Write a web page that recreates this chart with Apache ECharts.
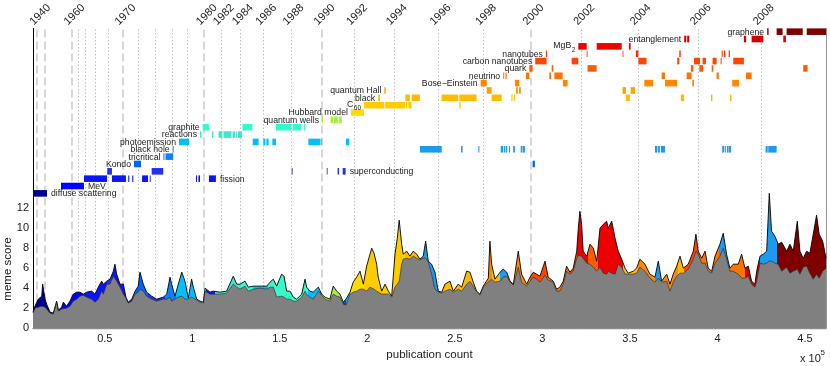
<!DOCTYPE html>
<html>
<head>
<meta charset="utf-8">
<script src="https://cdn.jsdelivr.net/npm/echarts@6/dist/echarts.min.js"></script>
<style>
  html, body { margin: 0; padding: 0; background: #fff; }
  #chart { width: 830px; height: 366px; }
</style>
</head>
<body>
<div id="chart"></div>
<script>
// x values are publication counts in thousands

// meme score curve: total (top, black outline) and the grey base under it
const areaX = [
  9.0, 10.1, 12.0, 14.0, 14.5, 15.9, 16.8, 18.7, 20.6, 22.5,
  23.5, 25.4, 26.3, 28.2, 30.1, 32.0, 34.0, 35.8, 37.7, 39.7,
  42.5, 44.4, 46.3, 48.2, 49.2, 51.1, 53.0, 54.9, 55.8, 56.8,
  58.7, 60.6, 62.1, 63.4, 65.4, 67.3, 69.1, 70.1, 72.0, 73.9,
  76.8, 79.7, 83.4, 85.4, 87.3, 88.2, 90.1, 92.0, 94.0, 95.8,
  97.7, 99.6, 100.6, 102.5, 104.4, 106.3, 107.3, 110.1, 112.0, 115.8,
  119.6, 123.4, 125.4, 127.2, 130.1, 132.0, 134.8, 138.7, 142.5, 144.4,
  146.3, 148.2, 151.0, 152.4, 153.9, 155.8, 157.7, 159.6, 162.5, 164.4,
  165.3, 167.2, 169.1, 172.0, 173.9, 175.8, 178.6, 180.5, 182.5, 184.4,
  186.2, 187.8, 190.1, 191.9, 193.9, 195.8, 197.7, 199.6, 201.5, 202.5,
  203.8, 205.3, 206.2, 208.2, 210.1, 212.0, 213.9, 215.8, 217.1, 218.2,
  219.6, 220.5, 222.5, 224.3, 226.2, 228.2, 230.0, 231.9, 233.3, 234.8,
  236.7, 238.6, 240.5, 242.5, 244.3, 247.2, 249.1, 251.9, 253.9, 256.7,
  258.6, 260.5, 262.4, 264.3, 266.2, 269.1, 270.0, 271.0, 272.9, 275.8,
  277.6, 279.6, 281.5, 283.4, 286.2, 288.1, 291.0, 292.9, 294.8, 296.7,
  298.6, 301.5, 303.3, 306.2, 308.1, 310.0, 311.9, 313.8, 315.7, 317.6,
  319.6, 320.5, 321.4, 322.4, 323.3, 325.3, 327.2, 329.1, 331.0, 332.9,
  334.8, 336.7, 337.6, 339.6, 341.5, 343.3, 345.3, 347.2, 349.0, 351.9,
  353.8, 355.7, 358.6, 361.4, 364.3, 366.2, 368.1, 371.0, 372.9, 374.7,
  376.7, 378.6, 380.5, 383.3, 386.2, 387.7, 389.0, 391.0, 392.9, 394.7,
  396.7, 398.6, 401.4, 403.3, 405.2, 407.1, 409.0, 411.9, 413.8, 415.7,
  417.6, 419.5, 421.4, 422.4, 424.3, 426.2, 428.1, 429.6, 430.9, 432.8,
  434.7, 436.7, 439.5, 441.4, 443.3, 445.6, 447.1, 449.0, 450.9, 452.8,
  454.7, 456.6, 458.1, 460.1, 462.0
];
const areaTotal = [
  1.6, 2.2, 2.9, 3.2, 4.4, 2.9, 2.4, 1.6, 1.5, 2.7,
  1.8, 2.1, 2.6, 2.2, 2.7, 3.4, 3.6, 3.6, 3.4, 3.6,
  3.7, 3.4, 4.1, 4.7, 4.4, 4.7, 4.9, 5.7, 6.4, 5.4,
  4.4, 4.4, 3.1, 2.6, 2.9, 3.7, 4.2, 5.6, 4.4, 3.6,
  3.2, 2.9, 3.1, 3.4, 5.1, 4.4, 3.2, 4.4, 5.6, 4.7,
  3.0, 4.9, 4.1, 2.9, 2.7, 2.6, 4.0, 3.6, 3.7, 3.6,
  3.7, 5.2, 4.4, 4.4, 4.7, 4.1, 4.2, 4.2, 4.2, 4.6,
  4.9, 4.2, 5.4, 5.2, 3.7, 3.7, 3.1, 2.9, 3.4, 4.9,
  4.1, 3.7, 3.6, 4.1, 3.4, 3.1, 2.9, 4.2, 3.7, 3.4,
  2.6, 2.9, 3.6, 4.6, 5.1, 5.7, 4.4, 6.2, 7.4, 8.0,
  7.5, 6.4, 5.1, 3.7, 4.4, 3.7, 3.2, 7.4, 9.0, 10.8,
  8.4, 7.4, 7.7, 7.2, 7.7, 7.4, 6.9, 7.2, 8.7, 6.7,
  6.4, 5.6, 3.7, 3.6, 4.4, 4.7, 3.7, 4.4, 4.1, 5.7,
  5.6, 4.6, 3.7, 3.4, 4.2, 5.0, 8.7, 6.4, 4.9, 5.6,
  5.9, 5.6, 4.7, 4.4, 7.7, 5.4, 4.4, 5.1, 5.6, 5.4,
  5.2, 6.7, 5.1, 4.7, 3.9, 4.1, 4.7, 6.2, 5.6, 6.0,
  7.7, 10.0, 11.7, 10.4, 7.7, 7.2, 8.4, 8.0, 6.7, 10.0,
  10.4, 10.7, 10.0, 10.7, 9.0, 7.7, 6.9, 6.0, 5.5, 5.7,
  6.0, 6.9, 6.4, 5.4, 5.1, 6.7, 4.7, 5.4, 4.4, 5.4,
  6.2, 7.2, 6.0, 6.4, 7.7, 9.4, 7.7, 7.0, 7.7, 6.0,
  5.7, 7.2, 8.4, 9.5, 7.4, 6.0, 6.4, 6.4, 7.4, 6.0,
  6.2, 4.7, 4.4, 5.7, 7.2, 7.4, 7.7, 13.5, 9.7, 9.2,
  8.4, 8.6, 7.7, 8.4, 7.7, 10.7, 7.7, 7.0, 7.7, 7.5,
  9.4, 11.3, 9.4, 8.7, 7.0
];
const areaBase = [
  1.5, 2.0, 2.1, 2.2, 2.4, 2.1, 1.9, 1.5, 1.4, 2.6,
  1.7, 1.9, 2.0, 2.0, 2.2, 2.7, 2.9, 3.2, 3.3, 3.1,
  2.9, 2.6, 2.9, 3.7, 3.4, 4.4, 4.4, 5.2, 5.4, 4.7,
  4.1, 3.4, 3.0, 2.5, 2.7, 3.4, 3.6, 3.9, 3.7, 3.2,
  2.9, 2.7, 2.9, 2.9, 3.1, 2.7, 2.9, 3.1, 3.2, 2.9,
  2.9, 3.1, 2.9, 2.8, 2.6, 2.5, 3.7, 3.4, 3.4, 3.4,
  3.5, 4.4, 4.1, 3.9, 4.2, 3.7, 3.9, 4.0, 3.9, 4.1,
  4.1, 3.1, 3.2, 3.1, 2.9, 2.9, 2.7, 2.7, 3.1, 3.7,
  3.4, 3.1, 2.9, 3.7, 3.3, 2.9, 2.7, 3.4, 3.2, 3.1,
  2.4, 2.3, 3.4, 3.6, 3.7, 3.9, 3.9, 3.7, 4.1, 4.1,
  3.9, 3.7, 3.6, 3.4, 3.4, 3.4, 3.1, 4.1, 4.4, 4.7,
  6.4, 6.9, 7.0, 6.9, 7.2, 7.0, 6.8, 7.0, 7.0, 6.6,
  5.4, 3.9, 3.6, 3.5, 3.7, 3.9, 3.6, 3.9, 3.7, 4.4,
  4.7, 4.2, 3.6, 3.3, 4.1, 4.6, 4.7, 4.9, 4.6, 4.7,
  5.1, 5.2, 4.6, 4.3, 6.1, 4.6, 4.2, 4.7, 5.1, 4.9,
  4.6, 5.3, 4.8, 4.6, 3.7, 3.7, 4.4, 5.7, 5.4, 5.7,
  7.0, 7.3, 7.2, 7.2, 7.0, 6.5, 6.4, 6.1, 5.7, 6.1,
  5.5, 5.4, 5.7, 5.5, 5.4, 6.4, 6.1, 5.4, 5.4, 5.4,
  5.5, 6.1, 5.7, 5.0, 4.6, 5.0, 4.6, 4.7, 3.7, 4.6,
  5.2, 5.5, 5.5, 5.9, 6.9, 7.7, 7.4, 6.5, 6.5, 5.7,
  5.5, 6.5, 7.2, 8.0, 6.9, 5.7, 5.7, 5.4, 5.0, 5.0,
  5.2, 4.4, 4.1, 4.7, 6.5, 6.4, 6.5, 6.7, 6.7, 6.5,
  6.4, 5.7, 6.1, 5.5, 5.7, 5.9, 5.4, 6.1, 6.2, 5.5,
  4.9, 5.4, 5.0, 5.7, 6.0
];

// which meme sits on top of the stack, from each start to the next one
const leadStart = [9, 23.3, 38.1, 51.3, 54.1, 65.5, 74.7, 84.4, 90.7, 104.4,
  107.8, 113.0, 128.4, 134.7, 143.2, 166.1, 174.1, 186.1, 187.8, 190.1,
  198.1, 221.5, 230.0, 242.6, 263.2, 271.2, 275.8, 280.3, 292.9, 303.2,
  315.7, 319.7, 326.0, 331.7, 346.0, 354.6, 364.3, 367.7, 377.4, 380.9,
  390.0, 400.8, 406.6, 415.7, 424.3, 434.0];
const leadMeme = [0, 1, 2, 3, 2, 4, 3, 5, 7, 8,
  2, 8, 9, 7, 9, 7, 10, 3, 7, 11,
  12, 13, 6, 13, 15, 13, 6, 15, 18, 16,
  18, 20, 17, 20, 13, 15, 6, 15, 13, 18,
  16, 6, 16, 21, 6, 22];

// memes, one row each from the bottom; "_" marks a subscript
const memeNames = ['diffuse scattering', 'MeV', 'fission', 'superconducting', 'Kondo',
  'tricritical', 'black hole', 'photoemission', 'reactions', 'graphite',
  'quantum wells', 'Hubbard model', 'C_60', 'black', 'quantum Hall',
  'Bose\u2212Einstein', 'neutrino', 'quark', 'carbon nanotubes', 'nanotubes',
  'MgB_2', 'entanglement', 'graphene'];

// periods when each meme is active: [start, end]
const memeBars = [
  [[9.0, 17.0]],
  [[25.0, 38.1]],
  [[38.1, 51.3], [54.1, 62.1], [63.4, 64.0], [65.7, 66.3], [71.3, 74.7], [75.7, 76.2], [102.1, 102.7], [103.5, 104.4], [109.5, 113.5]],
  [[51.4, 54.1], [76.8, 83.4], [156.8, 157.3], [176.8, 177.3], [183.0, 183.8], [185.9, 187.6]],
  [[66.7, 70.7], [294.4, 295.7]],
  [[83.5, 84.1], [84.7, 89.1]],
  [[88.8, 89.4], [230.0, 242.5], [253.5, 254.4], [263.4, 264.0], [276.2, 277.5], [277.9, 278.6], [279.0, 279.9], [280.9, 281.5], [283.3, 284.3], [287.6, 288.6], [288.9, 290.0], [364.3, 365.6], [366.0, 367.1], [367.7, 370.0], [402.7, 403.7], [404.1, 404.8], [405.4, 406.3], [406.5, 407.7], [427.5, 428.7], [429.0, 433.8]],
  [[92.4, 98.1], [134.5, 137.9], [140.6, 141.8], [142.3, 143.6], [145.7, 147.8], [166.3, 173.1], [173.3, 173.9], [187.8, 189.7]],
  [[104.4, 105.2], [111.2, 112.0], [115.0, 117.2], [117.8, 122.4], [123.1, 124.4], [125.0, 125.5], [126.1, 128.4]],
  [[105.9, 109.5], [128.6, 134.3], [147.8, 156.4], [157.3, 162.1], [163.8, 164.5]],
  [[174.1, 174.6], [179.0, 180.4], [180.8, 183.2], [183.6, 185.3]],
  [[190.6, 198.1]],
  [[198.1, 209.7], [210.2, 221.5], [221.9, 222.8], [223.4, 225.3], [252.5, 253.3]],
  [[206.2, 207.2], [221.7, 224.3], [225.3, 230.0], [242.4, 251.9], [252.5, 262.4], [271.0, 276.7], [282.3, 282.9], [283.7, 284.3], [347.7, 350.0], [379.1, 381.0], [396.3, 397.1], [407.1, 408.0]],
  [[209.7, 210.5], [268.2, 271.0], [284.9, 286.0], [286.6, 287.7], [345.8, 347.7], [350.4, 352.9]],
  [[264.7, 268.2], [284.3, 286.8], [311.7, 314.4], [358.2, 363.3], [370.0, 377.0], [385.6, 386.6], [408.4, 412.3]],
  [[277.6, 278.2], [278.9, 279.6], [290.6, 292.5], [303.9, 304.9], [306.8, 311.6], [368.1, 370.0], [382.4, 385.2], [399.5, 400.8], [416.3, 419.5]],
  [[292.5, 294.4], [305.3, 306.2], [325.8, 331.0], [384.8, 386.2], [389.6, 391.9], [396.7, 397.6], [449.0, 451.5]],
  [[295.9, 302.4], [316.7, 320.5], [354.8, 359.5], [377.0, 378.2], [386.6, 390.0], [391.5, 393.4], [397.2, 399.5], [401.8, 402.4], [409.0, 415.1]],
  [[302.0, 302.6], [325.3, 325.8], [345.8, 346.2], [353.4, 354.8], [378.2, 379.0], [402.4, 403.0], [403.7, 404.5], [406.4, 407.1]],
  [[320.5, 325.3], [331.0, 345.3], [349.4, 350.4]],
  [[381.0, 382.2], [382.7, 383.9], [415.1, 416.4], [419.5, 426.2], [437.6, 439.1]],
  [[428.4, 429.2], [433.8, 437.2], [439.5, 448.7], [451.0, 462.0]]
];
// memes whose label sits after their last period instead of before the first
const labelAfter = ['diffuse scattering', 'MeV', 'fission', 'superconducting'];

// calendar years against cumulative publication count
const years = [1940, 1950, 1960, 1962, 1964, 1966, 1968, 1970, 1972, 1974,
  1976, 1978, 1980, 1982, 1984, 1986, 1988, 1990, 1992, 1994,
  1996, 1998, 2000, 2002, 2004, 2006, 2008];
const yearPubK = [11.5, 15.9, 31.1, 34.5, 38.7, 44.4, 51.7, 60.2, 69.1, 78.7,
  88.2, 97.1, 106.7, 116.4, 127.2, 140.6, 156.2, 173.9, 192.5, 215.2,
  240.2, 266.2, 293.3, 322.3, 354.5, 388.8, 424.8];
const labeledYears = [1940, 1960, 1970, 1980, 1982, 1984, 1986, 1988, 1990, 1992,
  1994, 1996, 1998, 2000, 2002, 2004, 2006, 2008];
const pubTicks = [50, 100, 150, 200, 250, 300, 350, 400, 450];

const memeColors = ['#00008f', '#0000ff', '#0a14ff', '#2030f0', '#0062ff',
  '#0d80ff', '#1a9af0', '#00bfff', '#3ee6d0', '#36fbc8',
  '#a8ef3e', '#ffdc00', '#ffcc00', '#ffbb00', '#ffa000',
  '#ff8800', '#ff7400', '#ff5c00', '#ff4500', '#ff2c00',
  '#ec0000', '#d20000', '#800000'];

const FONT = "'Liberation Sans', Arial, sans-serif";
const LABEL_SIZE = 8.7;
const SUB_SIZE = 6.5;
const ROW0 = 13.49;
const ROW_STEP = 0.736;
const ROW_HALF = 0.33;

function rowCenter(row) {
  return ROW0 + row * ROW_STEP;
}

const measureCtx = document.createElement('canvas').getContext('2d');
function textWidth(s, size) {
  measureCtx.font = size + 'px ' + FONT;
  return measureCtx.measureText(s).width;
}

const chart = echarts.init(document.getElementById('chart'));

const pieces = leadStart.map((s, i) => ({
  gte: s,
  lt: i + 1 < leadStart.length ? leadStart[i + 1] : 1000,
  color: memeColors[leadMeme[i]]
}));

const barData = [];
memeBars.forEach((bars, row) => {
  bars.forEach(b => barData.push([b[0], row, b[1]]));
});

const labelData = memeNames.map((name, row) => {
  const bars = memeBars[row];
  const after = labelAfter.includes(name);
  return [after ? bars[bars.length - 1][1] : bars[0][0], row, after ? 1 : 0];
});

function renderYear(params, api) {
  const yr = api.value(1);
  const top = api.coord([api.value(0), 30]);
  const bot = api.coord([api.value(0), 0]);
  const decade = yr % 10 === 0;
  const x = Math.round(top[0]) + (decade ? 0 : 0.5);
  return {
    type: 'line',
    shape: { x1: x, y1: top[1] + 1, x2: x, y2: bot[1] },
    style: decade
      ? { stroke: '#cfcfcf', lineWidth: 1.6, lineDash: [8, 4] }
      : { stroke: '#c2c2c2', lineWidth: 1, lineDash: [1.5, 2] }
  };
}

function renderBar(params, api) {
  const row = api.value(1);
  const yc = rowCenter(row);
  const a = api.coord([api.value(0), yc + ROW_HALF]);
  const b = api.coord([api.value(2), yc - ROW_HALF]);
  return {
    type: 'rect',
    shape: { x: a[0], y: a[1], width: Math.max(b[0] - a[0], 0.8), height: b[1] - a[1] },
    style: { fill: memeColors[row] }
  };
}

function renderLabel(params, api) {
  const row = api.value(1);
  const after = api.value(2) === 1;
  const p = api.coord([api.value(0), rowCenter(row)]);
  const parts = memeNames[row].split('_');
  const x = after ? p[0] + 4 : p[0] - 3;
  const font = LABEL_SIZE + 'px ' + FONT;
  if (parts.length === 1) {
    return {
      type: 'text', x: x, y: p[1] + 0.5,
      style: { text: parts[0], fill: '#222', font: font, align: after ? 'left' : 'right', verticalAlign: 'middle' }
    };
  }
  const subW = textWidth(parts[1], SUB_SIZE);
  return {
    type: 'group',
    children: [
      { type: 'text', x: x - subW - 0.5, y: p[1] - 1,
        style: { text: parts[0], fill: '#222', font: font, align: 'right', verticalAlign: 'middle' } },
      { type: 'text', x: x, y: p[1] + 3.5,
        style: { text: parts[1], fill: '#222', font: SUB_SIZE + 'px ' + FONT, align: 'right', verticalAlign: 'middle' } }
    ]
  };
}

chart.setOption({
  animation: false,
  grid: { left: 33, right: 4, top: 27, bottom: 36.7 },
  xAxis: [
    {
      type: 'value', min: 9, max: 462,
      axisLine: { show: false }, axisTick: { show: false }, splitLine: { show: false },
      axisLabel: {
        customValues: pubTicks,
        formatter: v => String(v / 100),
        margin: 5, fontSize: 11, color: '#222', fontFamily: FONT
      },
      name: 'publication count', nameLocation: 'middle', nameGap: 15,
      nameTextStyle: { fontSize: 11.5, color: '#222', fontFamily: FONT }
    },
    {
      type: 'value', position: 'top', min: 9, max: 462,
      axisLine: { show: true, lineStyle: { color: '#8c8c8c', width: 1.4 } },
      axisTick: { show: false }, splitLine: { show: false },
      axisLabel: {
        customValues: labeledYears.map(y => yearPubK[years.indexOf(y)]),
        formatter: v => {
          let best = 0;
          yearPubK.forEach((p, i) => { if (Math.abs(p - v) < Math.abs(yearPubK[best] - v)) best = i; });
          return String(years[best]);
        },
        rotate: 45, margin: 11, align: 'center', verticalAlign: 'middle', padding: [0, 0, 0, 8],
        fontSize: 11, color: '#222', fontFamily: FONT
      }
    }
  ],
  yAxis: [
    {
      type: 'value', min: 0, max: 30, interval: 2,
      axisLine: { show: true, lineStyle: { color: '#000', width: 1 } },
      axisTick: { show: false }, splitLine: { show: false },
      axisLabel: {
        formatter: v => (v <= 12 ? String(v) : ''),
        margin: 4, fontSize: 11, color: '#222', fontFamily: FONT
      }
    },
    {
      type: 'value', position: 'right', min: 0, max: 30,
      axisLine: { show: true, lineStyle: { color: '#999', width: 1 } },
      axisTick: { show: false }, splitLine: { show: false }, axisLabel: { show: false }
    }
  ],
  visualMap: {
    type: 'piecewise', show: false, seriesIndex: 0, dimension: 0, pieces: pieces
  },
  series: [
    {
      type: 'line', name: 'total', silent: true,
      data: areaX.map((x, i) => [x, areaTotal[i]]),
      symbol: 'none', showSymbol: false,
      lineStyle: { color: '#000', width: 0.9 },
      areaStyle: { opacity: 1 }
    },
    {
      type: 'line', name: 'base', silent: true,
      data: areaX.map((x, i) => [x, areaBase[i]]),
      symbol: 'none', showSymbol: false,
      lineStyle: { color: '#333', width: 0.7 },
      areaStyle: { color: '#808080', opacity: 1 }
    },
    {
      type: 'custom', name: 'years', silent: true,
      data: yearPubK.map((x, i) => [x, years[i]]),
      renderItem: renderYear
    },
    {
      type: 'custom', name: 'periods', silent: true,
      data: barData,
      encode: { x: [0, 2], y: 1 },
      renderItem: renderBar
    },
    {
      type: 'custom', name: 'labels', silent: true,
      data: labelData,
      encode: { x: 0, y: 1 },
      renderItem: renderLabel
    }
  ],
  graphic: [
    { type: 'text', x: 8, y: 269, rotation: Math.PI / 2,
      style: { text: 'meme score', font: '11.5px ' + FONT, fill: '#222', align: 'center', verticalAlign: 'middle' } },
    { type: 'text', x: 800, y: 358.5,
      style: { text: 'x 10', font: '11px ' + FONT, fill: '#222', align: 'left', verticalAlign: 'middle' } },
    { type: 'text', x: 820.5, y: 353,
      style: { text: '5', font: '8px ' + FONT, fill: '#222', align: 'left', verticalAlign: 'middle' } }
  ]
});
</script>
</body>
</html>
